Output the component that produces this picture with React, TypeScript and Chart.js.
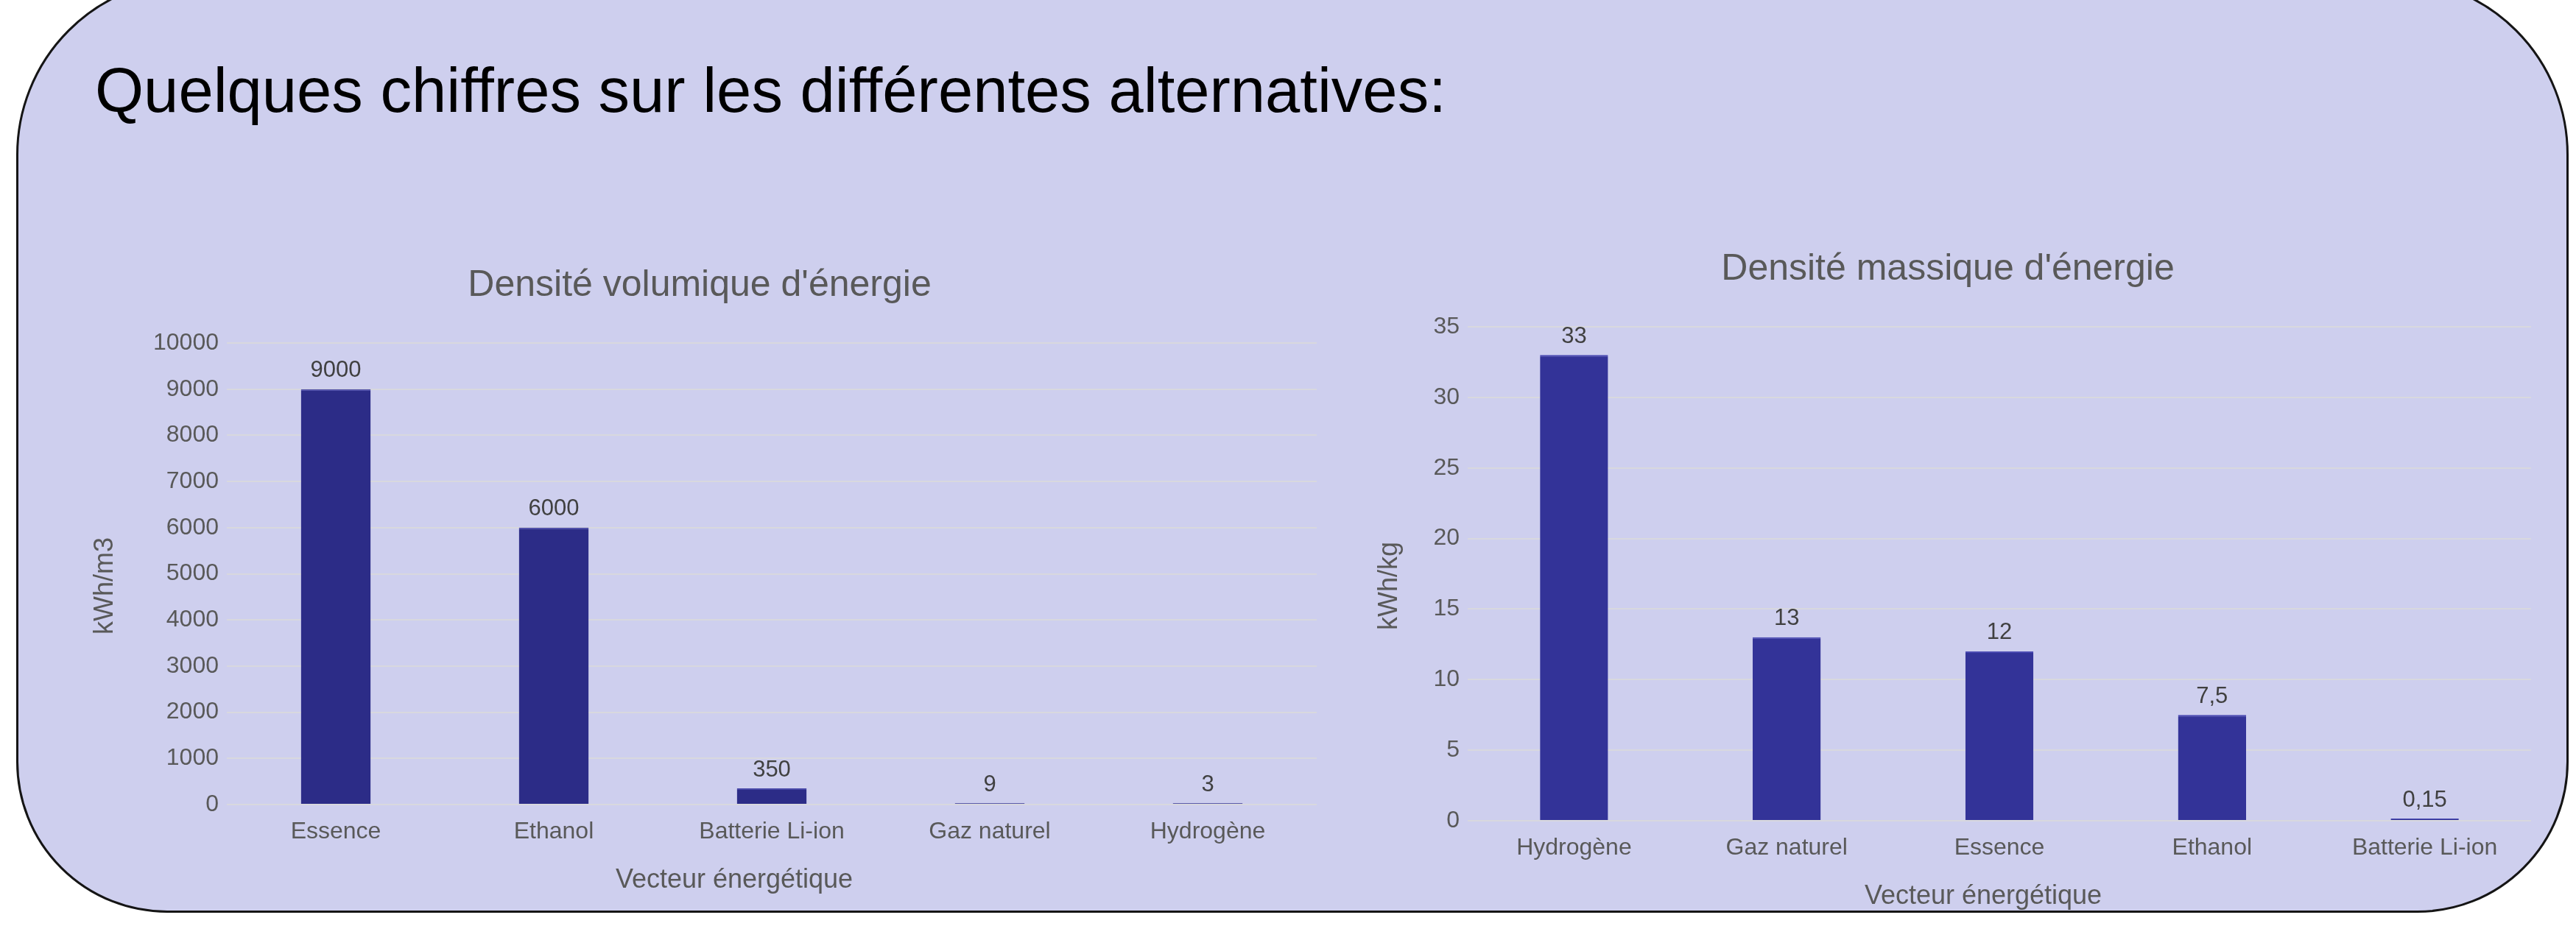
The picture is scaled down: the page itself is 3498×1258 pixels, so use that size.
import React, { useEffect, useRef } from 'react';
import { Chart, registerables } from 'chart.js';

Chart.register(...registerables);

const FONT = '"Liberation Sans", Arial, Helvetica, sans-serif';
const BG = '#CECFEE';
const GRID = '#D8D8DE';
const TEXT = '#595959';
const LABEL = '#404040';

// ---------- data ----------
const pageTitle = 'Quelques chiffres sur les différentes alternatives:';
const xAxisTitle = 'Vecteur énergétique';

const volTitle = "Densité volumique d'énergie";
const volUnit = 'kWh/m3';
const volCategories = ['Essence', 'Ethanol', 'Batterie Li-ion', 'Gaz naturel', 'Hydrogène'];
const volValues = [9000, 6000, 350, 9, 3];
const volAxisMax = 10000;
const volAxisStep = 1000;

const massTitle = "Densité massique d'énergie";
const massUnit = 'kWh/kg';
const massCategories = ['Hydrogène', 'Gaz naturel', 'Essence', 'Ethanol', 'Batterie Li-ion'];
const massValues = [33, 13, 12, 7.5, 0.15];
const massAxisMax = 35;
const massAxisStep = 5;

// ---------- layout (canvas-relative) ----------
type Spec = {
  title: string;
  unit: string;
  categories: string[];
  values: number[];
  max: number;
  step: number;
  barColor: string;
  barEdge: string;
  box: { left: number; top: number; width: number; height: number };
  padTop: number;
  padRight: number;
  yWidth: number;
  xHeight: number;
  titlePos: [number, number];
  yTitlePos: [number, number];
  xTitlePos: [number, number];
  minBar: number;
};

const fmt = (v: number) => String(v).replace('.', ',');

function makeTextPlugin(spec: Spec) {
  return {
    id: 'customText',
    afterDraw(chart: any) {
      const ctx = chart.ctx as CanvasRenderingContext2D;
      ctx.save();
      ctx.textAlign = 'center';
      ctx.textBaseline = 'middle';
      // chart title
      ctx.fillStyle = TEXT;
      ctx.font = `50px ${FONT}`;
      ctx.fillText(spec.title, spec.titlePos[0], spec.titlePos[1]);
      // x axis title
      ctx.font = `36px ${FONT}`;
      ctx.fillText(xAxisTitle, spec.xTitlePos[0], spec.xTitlePos[1]);
      // y axis title
      ctx.save();
      ctx.translate(spec.yTitlePos[0], spec.yTitlePos[1]);
      ctx.rotate(-Math.PI / 2);
      ctx.fillText(spec.unit, 0, 0);
      ctx.restore();
      // value labels
      ctx.fillStyle = LABEL;
      ctx.font = `31px ${FONT}`;
      const meta = chart.getDatasetMeta(0);
      const data = chart.data.datasets[0].data as number[];
      meta.data.forEach((el: any, i: number) => {
        ctx.fillText(fmt(data[i]), el.x, el.y - 25);
      });
      ctx.restore();
    },
  };
}

function BarChart({ spec }: { spec: Spec }) {
  const ref = useRef<HTMLCanvasElement | null>(null);
  useEffect(() => {
    if (!ref.current) return;
    const chart = new Chart(ref.current, {
      type: 'bar',
      data: {
        labels: spec.categories,
        datasets: [
          {
            data: spec.values,
            backgroundColor: spec.barColor,
            borderColor: spec.barEdge,
            borderWidth: { top: 2, left: 0, right: 0, bottom: 0 },
            borderSkipped: 'start',
            barPercentage: 0.32,
            categoryPercentage: 1,
            minBarLength: spec.minBar,
          },
        ],
      },
      options: {
        responsive: false,
        maintainAspectRatio: false,
        animation: false,
        events: [],
        layout: { padding: { top: spec.padTop, right: spec.padRight, left: 0, bottom: 0 } },
        plugins: {
          legend: { display: false },
          title: { display: false },
          tooltip: { enabled: false },
        },
        scales: {
          x: {
            grid: { display: false, drawTicks: false },
            border: { display: false },
            ticks: {
              color: TEXT,
              font: { family: FONT, size: 32 },
              padding: 18,
              maxRotation: 0,
              autoSkip: false,
            },
            afterFit: (scale: any) => {
              scale.height = spec.xHeight;
            },
          },
          y: {
            min: 0,
            max: spec.max,
            grid: { color: GRID, lineWidth: 2, drawTicks: false },
            border: { display: false },
            ticks: {
              stepSize: spec.step,
              color: TEXT,
              font: { family: FONT, size: 32 },
              padding: 11,
              callback: (v: any) => String(v),
            },
            afterFit: (scale: any) => {
              scale.width = spec.yWidth;
            },
          },
        },
      },
      plugins: [makeTextPlugin(spec)],
    } as any);
    return () => chart.destroy();
  }, [spec]);
  return (
    <canvas
      ref={ref}
      width={spec.box.width}
      height={spec.box.height}
      style={{
        position: 'absolute',
        left: spec.box.left,
        top: spec.box.top,
        width: spec.box.width,
        height: spec.box.height,
      }}
    />
  );
}

const volSpec: Spec = {
  title: volTitle,
  unit: volUnit,
  categories: volCategories,
  values: volValues,
  max: volAxisMax,
  step: volAxisStep,
  barColor: '#2C2C87',
  barEdge: '#4848A8',
  box: { left: 40, top: 330, width: 1800, height: 910 },
  padTop: 136,
  padRight: 52,
  yWidth: 268,
  xHeight: 147,
  titlePos: [910, 58],
  yTitlePos: [103, 466],
  xTitlePos: [957, 866],
  minBar: 2,
};

const massSpec: Spec = {
  title: massTitle,
  unit: massUnit,
  categories: massCategories,
  values: massValues,
  max: massAxisMax,
  step: massAxisStep,
  barColor: '#333398',
  barEdge: '#4A4AB2',
  box: { left: 1830, top: 300, width: 1640, height: 940 },
  padTop: 144,
  padRight: 33,
  yWidth: 163,
  xHeight: 125,
  titlePos: [815, 66],
  yTitlePos: [57, 496],
  xTitlePos: [863, 918],
  minBar: 0,
};

export default function App() {
  return (
    <div
      style={{
        position: 'fixed',
        left: 0,
        top: 0,
        width: 3498,
        height: 1258,
        background: '#ffffff',
        overflow: 'hidden',
      }}
    >
      <div
        style={{
          position: 'absolute',
          left: 22,
          top: -30,
          width: 3466,
          height: 1270,
          boxSizing: 'border-box',
          border: '3px solid #151515',
          borderRadius: '240px 240px 205px 205px',
          background: BG,
        }}
      />
      <div
        style={{
          position: 'absolute',
          left: 129,
          top: 80,
          fontFamily: FONT,
          fontSize: 85,
          lineHeight: '85px',
          color: '#000000',
          whiteSpace: 'nowrap',
        }}
      >
        {pageTitle}
      </div>
      <BarChart spec={volSpec} />
      <BarChart spec={massSpec} />
    </div>
  );
}
